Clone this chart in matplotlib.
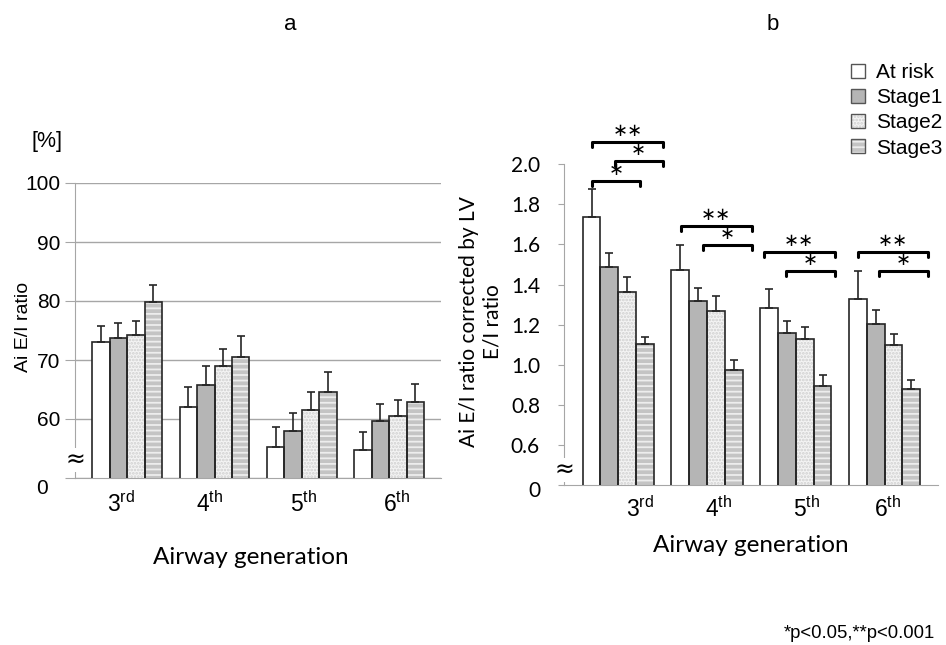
import numpy as np
import matplotlib
matplotlib.use('Agg')
import matplotlib.pyplot as plt
from matplotlib.patches import Patch

plt.rcParams['font.family'] = ['Liberation Sans', 'DejaVu Sans']
plt.rcParams['mathtext.fontset'] = 'custom'
plt.rcParams['mathtext.rm'] = 'Liberation Sans'
plt.rcParams['hatch.linewidth'] = 1.3

# groups and series
generations = [r'$\mathrm{3^{rd}}$', r'$\mathrm{4^{th}}$', r'$\mathrm{5^{th}}$', r'$\mathrm{6^{th}}$']
stages = ['At risk', 'Stage1', 'Stage2', 'Stage3']

# panel a: Ai E/I ratio [%] (mean, upper SD)
a_atrisk = [73.0, 62.1, 55.2, 54.8]
a_stage1 = [73.8, 65.8, 57.9, 59.6]
a_stage2 = [74.2, 68.9, 61.6, 60.5]
a_stage3 = [79.8, 70.5, 64.5, 62.8]
a_err_atrisk = [2.8, 3.4, 3.5, 3.0]
a_err_stage1 = [2.5, 3.1, 3.1, 2.9]
a_err_stage2 = [2.4, 3.0, 2.9, 2.8]
a_err_stage3 = [2.9, 3.5, 3.5, 3.2]

# panel b: Ai E/I ratio corrected by LV E/I ratio
b_atrisk = [1.739, 1.473, 1.283, 1.328]
b_stage1 = [1.489, 1.318, 1.159, 1.202]
b_stage2 = [1.365, 1.267, 1.129, 1.099]
b_stage3 = [1.102, 0.973, 0.896, 0.878]
b_err_atrisk = [0.138, 0.126, 0.095, 0.141]
b_err_stage1 = [0.067, 0.067, 0.059, 0.070]
b_err_stage2 = [0.075, 0.075, 0.058, 0.055]
b_err_stage3 = [0.038, 0.052, 0.055, 0.048]

# significance brackets in panel b: (group, left offset, right offset, level, label)
brackets = [
    (0, -0.29, 0.50, 2.113, '∗∗'),
    (0, -0.04, 0.50, 2.018, '∗'),
    (0, -0.29, 0.245, 1.917, '∗'),
    (1, -0.296, 0.504, 1.692, '∗∗'),
    (1, -0.044, 0.504, 1.596, '∗'),
    (2, -0.36, 0.437, 1.564, '∗∗'),
    (2, -0.107, 0.437, 1.469, '∗'),
    (3, -0.306, 0.482, 1.564, '∗∗'),
    (3, -0.059, 0.482, 1.469, '∗'),
]

faces = ['white', '#b5b5b5', '#f4f4f4', '#c4c4c4']
hatches = [None, None, '.....', '---']
hatch_cols = [None, None, '#cfcfcf', '#ededed']
edge = '#262626'
axis_grey = '#a6a6a6'
calib = ['Lato', 'DejaVu Sans']
W = 0.2


def draw_bars(ax, means, errs):
    x = np.arange(len(generations))
    for k in range(4):
        pos = x + (k - 1.5) * W
        if hatches[k]:
            ax.bar(pos, means[k], W, color=faces[k], edgecolor=hatch_cols[k],
                   hatch=hatches[k], linewidth=0, zorder=2)
        else:
            ax.bar(pos, means[k], W, color=faces[k], linewidth=0, zorder=2)
        ax.bar(pos, means[k], W, fill=False, edgecolor=edge, linewidth=1.2, zorder=3)
        ax.errorbar(pos, means[k], yerr=[np.zeros(len(pos)), errs[k]], fmt='none',
                    ecolor=edge, elinewidth=1.2, capsize=3, capthick=1.2, zorder=4)


fig = plt.figure(figsize=(9.46, 6.45), dpi=100)

# ---- panel a
axa = fig.add_axes([75 / 946, 1 - 478 / 645, 366 / 946, 295 / 645])
draw_bars(axa, [a_atrisk, a_stage1, a_stage2, a_stage3],
          [a_err_atrisk, a_err_stage1, a_err_stage2, a_err_stage3])
axa.set_xlim(-0.598, 3.594)
axa.set_ylim(50, 100)
axa.set_yticks([50, 60, 70, 80, 90, 100])
axa.set_yticklabels(['', '60', '70', '80', '90', '100'])
axa.yaxis.grid(True, color=axis_grey, linewidth=1)
axa.set_axisbelow(True)
axa.tick_params(axis='y', length=7, color=axis_grey, labelsize=15, pad=3.5)
axa.set_xticks([])
for s in ['top', 'right']:
    axa.spines[s].set_visible(False)
for s in ['left', 'bottom']:
    axa.spines[s].set_color(axis_grey)
axa.text(-0.089, -0.034, '0', transform=axa.transAxes, ha='center', va='center', fontsize=15)
axa.text(0.0, 0.061, '≈', transform=axa.transAxes, ha='center', va='center', fontsize=17,
         family=['DejaVu Sans'], bbox=dict(facecolor='white', edgecolor='none', pad=0))
for gx, lab in zip([-0.071, 0.948, 2.017, 3.087], generations):
    axa.text(gx, -0.088, lab, transform=axa.get_xaxis_transform(), ha='center', va='center',
             fontsize=16.5)
fig.text(251 / 946, 1 - 557 / 645, 'Airway generation', ha='center', va='center',
         fontsize=17.5, family=calib)
fig.text(47 / 946, 1 - 141 / 645, '[%]', ha='center', va='center', fontsize=15.5)
fig.text(23 / 946, 1 - 327 / 645, 'Ai E/I ratio', ha='center', va='center', rotation=90,
         fontsize=14)
fig.text(290 / 946, 1 - 25 / 645, 'a', ha='center', va='center', fontsize=16)

# ---- panel b
axb = fig.add_axes([564 / 946, 1 - 485 / 645, 374 / 946, (485 - 164.3) / 645])
draw_bars(axb, [b_atrisk, b_stage1, b_stage2, b_stage3],
          [b_err_atrisk, b_err_stage1, b_err_stage2, b_err_stage3])
axb.set_xlim(-0.61, 3.60)
axb.set_ylim(0.4, 2.0)
axb.set_yticks([0.4, 0.6, 0.8, 1.0, 1.2, 1.4, 1.6, 1.8, 2.0])
axb.set_yticklabels(['', '0.6', '0.8', '1.0', '1.2', '1.4', '1.6', '1.8', '2.0'])
for lab in axb.get_yticklabels():
    lab.set_family(calib)
axb.tick_params(axis='y', length=4.3, color=axis_grey, labelsize=15, pad=13)
axb.set_xticks([])
for s in ['top', 'right']:
    axb.spines[s].set_visible(False)
for s in ['left', 'bottom']:
    axb.spines[s].set_color(axis_grey)
axb.text(-0.064, -0.019, '0', transform=axb.transAxes, ha='right', va='center',
         fontsize=15, family=calib)
axb.text(0.0, 0.047, '≈', transform=axb.transAxes, ha='center', va='center', fontsize=17,
         family=['DejaVu Sans'], bbox=dict(facecolor='white', edgecolor='none', pad=0))
for gx, lab in zip([0.245, 1.135, 2.123, 3.038], generations):
    axb.text(gx, -0.075, lab, transform=axb.get_xaxis_transform(), ha='center', va='center',
             fontsize=16.5)
fig.text(751 / 946, 1 - 546 / 645, 'Airway generation', ha='center', va='center',
         fontsize=17.5, family=calib)
fig.text(481 / 946, 1 - 322 / 645, 'Ai E/I ratio corrected by LV\nE/I ratio', ha='center',
         va='center', rotation=90, fontsize=15, family=calib, linespacing=1.2)
fig.text(773 / 946, 1 - 25 / 645, 'b', ha='center', va='center', fontsize=16)

hook = 0.025
for g, x0, x1, y, lab in brackets:
    axb.plot([g + x0, g + x0, g + x1, g + x1], [y - hook, y, y, y - hook], color='black',
             linewidth=2.2, clip_on=False, solid_joinstyle='round', solid_capstyle='round')
    axb.text(g + (x0 + x1) / 2, y + 0.055, lab, ha='center', va='center', fontsize=13,
             family=['DejaVu Sans'])

# legend
handles = []
for k in range(4):
    if hatches[k]:
        base = Patch(facecolor=faces[k], edgecolor=hatch_cols[k], hatch=hatches[k], linewidth=0)
    else:
        base = Patch(facecolor=faces[k], linewidth=0)
    handles.append((base, Patch(fill=False, edgecolor='#555555', linewidth=1)))
fig.legend(handles, stages, loc='upper left', bbox_to_anchor=(851 / 946, 1 - 63 / 645),
           frameon=False, fontsize=15, handlelength=0.65, handleheight=0.65,
           handletextpad=0.55, labelspacing=0.3, borderpad=0, borderaxespad=0)

fig.text(935 / 946, 1 - 633 / 645, '*p<0.05,**p<0.001', ha='right', va='center', fontsize=13.3)

fig.savefig('out.png', dpi=100)
